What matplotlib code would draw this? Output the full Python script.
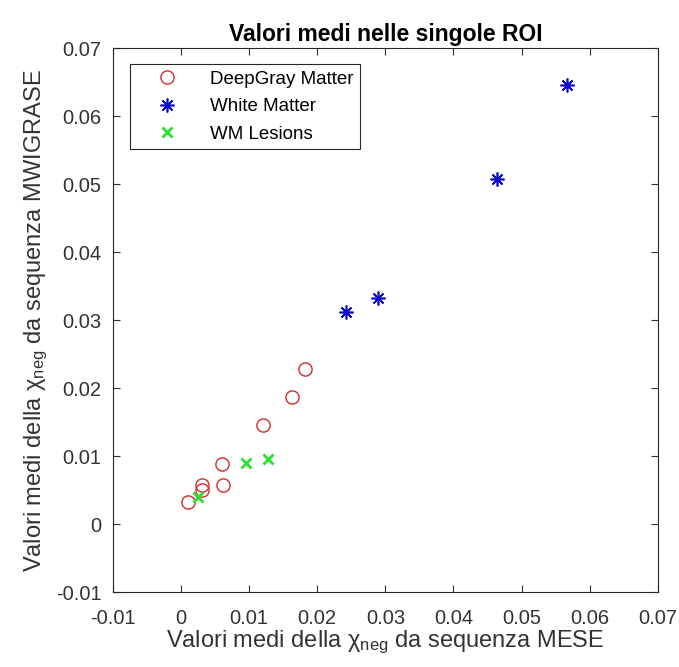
import matplotlib
matplotlib.use("Agg")
import matplotlib.pyplot as plt

# --- Valori medi per ROI: MESE (x) vs MWIGRASE (y) ---
dgm_mese = [0.0011, 0.0031, 0.0031, 0.0062, 0.0060, 0.0121, 0.0163, 0.0182]
dgm_mwi = [0.0032, 0.0050, 0.0057, 0.0057, 0.0088, 0.0146, 0.0187, 0.0228]

wm_mese = [0.0242, 0.0289, 0.0464, 0.0567]
wm_mwi = [0.0312, 0.0333, 0.0508, 0.0646]

les_mese = [0.0025, 0.0096, 0.0128]
les_mwi = [0.0040, 0.0090, 0.0096]

ticks = [-0.01, 0, 0.01, 0.02, 0.03, 0.04, 0.05, 0.06, 0.07]
tick_labels = ["-0.01", "0", "0.01", "0.02", "0.03", "0.04", "0.05", "0.06", "0.07"]

plt.rcParams["font.family"] = ["Liberation Sans", "DejaVu Sans"]
plt.rcParams["mathtext.fontset"] = "custom"
plt.rcParams["mathtext.rm"] = "Liberation Sans"
plt.rcParams["mathtext.it"] = "Liberation Sans"

fig = plt.figure(figsize=(6.79, 6.67), dpi=100)
ax = fig.add_axes([0.166, 0.1124, 0.803, 0.8152])

ax.plot(dgm_mese, dgm_mwi, linestyle="none", marker="o", markersize=9.5,
        markerfacecolor="none", markeredgecolor="#d42a2a", markeredgewidth=1.0,
        label="DeepGray Matter")
ax.plot(wm_mese, wm_mwi, linestyle="none", marker=(8, 2, 0), markersize=10,
        color="#0a0ac8", markeredgewidth=1.2, label="White Matter")
ax.plot(les_mese, les_mwi, linestyle="none", marker="x", markersize=7,
        color="#2ee02e", markeredgewidth=2.0, label="WM Lesions")

ax.set_xlim(-0.01, 0.07)
ax.set_ylim(-0.01, 0.07)
ax.set_xticks(ticks)
ax.set_xticklabels(tick_labels)
ax.set_yticks(ticks)
ax.set_yticklabels(tick_labels)
ax.tick_params(direction="in", top=True, right=True, length=5, width=0.8,
               labelsize=14.5, colors="#333333")
ax.tick_params(axis="x", pad=12)
ax.tick_params(axis="y", pad=8)
for s in ax.spines.values():
    s.set_color("#262626")
    s.set_linewidth(0.8)

ax.set_title("Valori medi nelle singole ROI", fontsize=16.5, fontweight="bold", pad=5)
ax.set_xlabel("Valori medi della χ$_{\\mathrm{neg}}$ da sequenza MESE",
              fontsize=17, color="#333333", labelpad=1)
ax.set_ylabel("Valori medi della χ$_{\\mathrm{neg}}$ da sequenza MWIGRASE",
              fontsize=17, color="#333333", labelpad=4)

leg = ax.legend(loc="upper left", bbox_to_anchor=(0.0317, 0.971), borderaxespad=0,
                fontsize=13.5, fancybox=False, edgecolor="#262626", framealpha=1,
                handlelength=3.2, handletextpad=0.7, borderpad=0.35, labelspacing=0.55)
leg.get_frame().set_linewidth(0.8)

fig.savefig("out.png", dpi=100)
